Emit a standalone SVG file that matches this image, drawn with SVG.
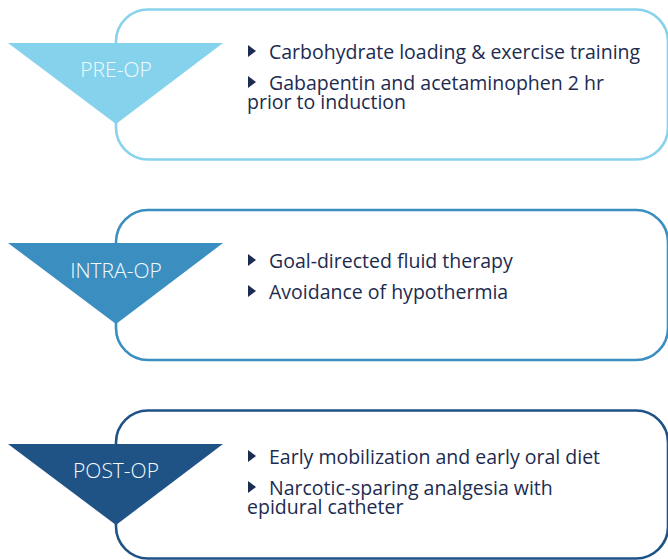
<svg xmlns="http://www.w3.org/2000/svg" xmlns:xlink="http://www.w3.org/1999/xlink" width="668" height="560" viewBox="0 0 668 560">
<style>
.box{fill:#ffffff;stroke-width:2.6}
.lbl{font-family:"Open Sans","Noto Sans","Liberation Sans",sans-serif;font-size:21px;fill:#f4fbfe;text-anchor:middle;font-weight:300}
.txt{font-family:"Open Sans","Noto Sans","Liberation Sans",sans-serif;font-size:19.5px;fill:#1c2b50}
.bul{fill:#1c2b50}
.c1{stroke:#87d2ec}.f1{fill:#84d2ec}
.c2{stroke:#3a8ec0}.f2{fill:#3a8ec0}
.c3{stroke:#1f5285}.f3{fill:#1f5285}
</style>
<defs>
<path id="b" d="M0,-13 L8,-7 L0,-1 Z"/>
</defs>
<rect width="668" height="560" fill="#ffffff"/>
<g id="connectors"/>
<g id="pre-op">
<rect class="box c1" x="116" y="9.5" width="552" height="150" rx="32"/>
<polygon class="f1" points="8,43 223,43 116,124"/>
<text class="lbl" x="116" y="77">PRE-OP</text>
<use class="bul" xlink:href="#b" x="248" y="58"/>
<text class="txt" x="269" y="59">Carbohydrate loading &amp; exercise training</text>
<use class="bul" xlink:href="#b" x="248" y="89"/>
<text class="txt"><tspan x="269" y="90">Gabapentin and acetaminophen 2 hr</tspan><tspan x="247" y="109">prior to induction</tspan></text>
</g>
<g id="intra-op">
<rect class="box c2" x="116" y="210" width="552" height="150" rx="32"/>
<polygon class="f2" points="8,243 223,243 116,324"/>
<text class="lbl" x="116" y="278">INTRA-OP</text>
<use class="bul" xlink:href="#b" x="248" y="267"/>
<text class="txt" x="269" y="268">Goal-directed fluid therapy</text>
<use class="bul" xlink:href="#b" x="248" y="298"/>
<text class="txt" x="269" y="299">Avoidance of hypothermia</text>
</g>
<g id="post-op">
<rect class="box c3" x="116" y="410.5" width="552" height="148" rx="32"/>
<polygon class="f3" points="8,444 223,444 116,525"/>
<text class="lbl" x="116" y="478">POST-OP</text>
<use class="bul" xlink:href="#b" x="248" y="463"/>
<text class="txt" x="269" y="464">Early mobilization and early oral diet</text>
<use class="bul" xlink:href="#b" x="248" y="494"/>
<text class="txt"><tspan x="269" y="495">Narcotic-sparing analgesia with</tspan><tspan x="247" y="514">epidural catheter</tspan></text>
</g>
</svg>
